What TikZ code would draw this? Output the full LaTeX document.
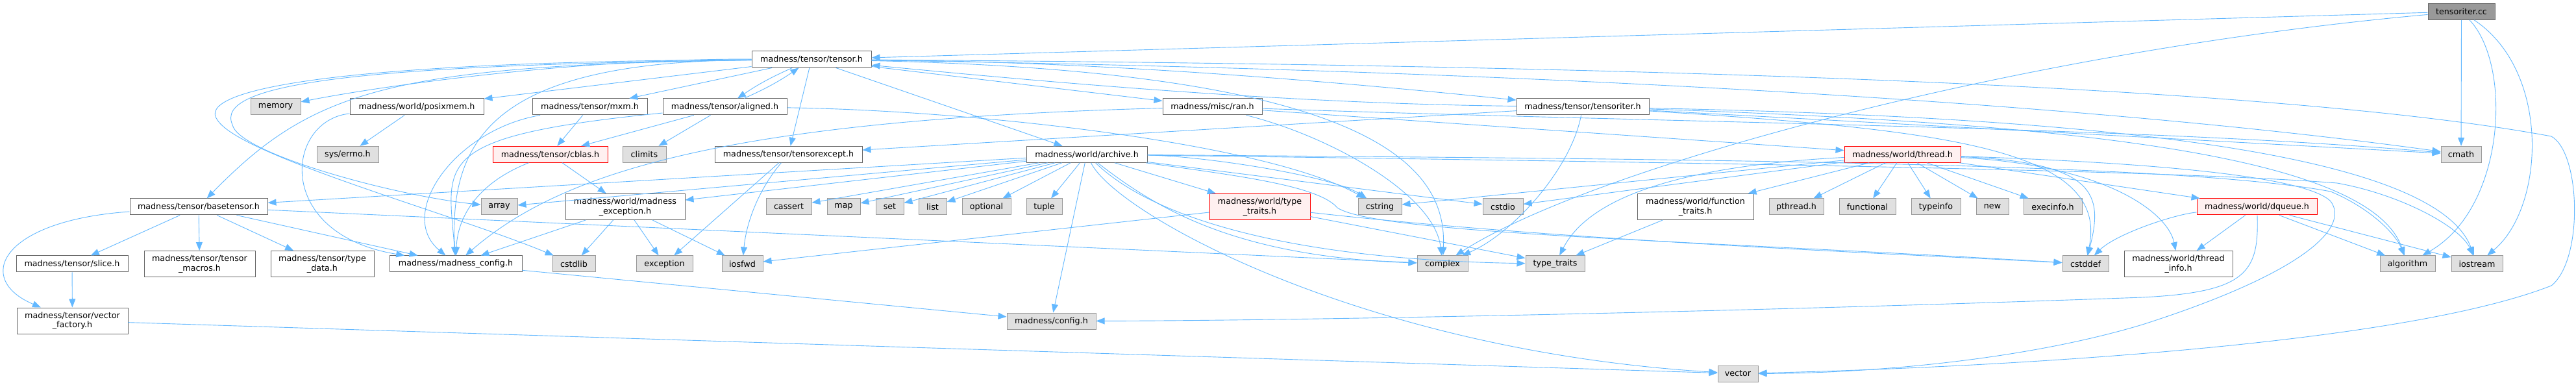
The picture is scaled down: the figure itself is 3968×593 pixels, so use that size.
\documentclass[tikz,border=0pt]{standalone}
\usepackage{fontspec}
\setmainfont{DejaVu Sans}
\usepackage{xcolor}
\usepackage{tikz}
\usetikzlibrary{arrows.meta}
\definecolor{edgeblue}{HTML}{63B8FF}
\definecolor{sysfill}{HTML}{E0E0E0}
\definecolor{sysline}{HTML}{999999}
\definecolor{boxline}{HTML}{666666}
\definecolor{redfill}{HTML}{FFF0F0}
\definecolor{rootfill}{HTML}{999999}

\begin{document}
\begin{tikzpicture}[x=1pt, y=-1pt, every node/.style={font=\fontsize{12.7}{14.4}\selectfont, inner sep=0pt, align=center}, box/.style={rectangle, draw=boxline, fill=white, line width=1pt, minimum height=25pt}, sbox/.style={box, draw=sysline, fill=sysfill}, rbox/.style={box, draw=red, fill=redfill}, rootbox/.style={box, fill=rootfill}, two/.style={minimum height=40pt}, arr/.style={-{Triangle[length=13pt,width=10pt]}, draw=edgeblue, line width=0.9pt}]
\useasboundingbox (0,0) rectangle (3968,593);
\node[rootbox, minimum width=103pt] (cc) at (3791.5,17.8) {tensoriter.cc};
\node[box, minimum width=184pt] (tensor) at (1250,91.5) {madness/tensor/tensor.h};
\node[sbox, minimum width=77pt] (memory) at (424.5,164.5) {memory};
\node[box, minimum width=206pt] (posixmem) at (642,164.5) {madness/world/posixmem.h};
\node[box, minimum width=177pt] (mxm) at (908.5,164.5) {madness/tensor/mxm.h};
\node[box, minimum width=191pt] (aligned) at (1116.5,164.5) {madness/tensor/aligned.h};
\node[box, minimum width=153pt] (ran) at (1867.5,164.5) {madness/misc/ran.h};
\node[box, minimum width=204pt] (iter) at (2438,164.5) {madness/tensor/tensoriter.h};
\node[sbox, minimum width=95pt] (errno) at (535.5,237.8) {sys/errno.h};
\node[rbox, minimum width=177pt] (cblas) at (847.5,237.8) {madness/tensor/cblas.h};
\node[sbox, minimum width=67pt] (climits) at (992.5,237.8) {climits};
\node[box, minimum width=227pt] (except) at (1214.5,237.8) {madness/tensor/tensorexcept.h};
\node[box, minimum width=186pt] (archive) at (1674,237.8) {madness/world/archive.h};
\node[rbox, minimum width=179pt] (thread) at (2930.5,237.8) {madness/world/thread.h};
\node[sbox, minimum width=62pt] (cmath) at (3791,237.8) {cmath};
\node[box, minimum width=212pt] (base) at (306,318.5) {madness/tensor/basetensor.h};
\node[sbox, minimum width=56pt] (array) at (769,318.5) {array};
\node[box, two, minimum width=184pt] (mexc) at (963,318.5) {madness/world/madness\\\_exception.h};
\node[sbox, minimum width=70pt] (cassert) at (1215,318.5) {cassert};
\node[sbox, minimum width=51pt] (map) at (1299.5,318.5) {map};
\node[sbox, minimum width=43pt] (set) at (1370.5,318.5) {set};
\node[sbox, minimum width=43pt] (list) at (1436.5,318.5) {list};
\node[sbox, minimum width=75pt] (optional) at (1519.5,318.5) {optional};
\node[sbox, minimum width=55pt] (tuple) at (1608.5,318.5) {tuple};
\node[rbox, two, minimum width=155pt] (wtraits) at (1940.5,318.5) {madness/world/type\\\_traits.h};
\node[sbox, minimum width=67pt] (cstring) at (2125.5,318.5) {cstring};
\node[sbox, minimum width=62pt] (cstdio) at (2315,318.5) {cstdio};
\node[box, two, minimum width=179pt] (ftraits) at (2611.5,318.5) {madness/world/function\\\_traits.h};
\node[sbox, minimum width=84pt] (pthread) at (2767,318.5) {pthread.h};
\node[sbox, minimum width=87pt] (functional) at (2876.5,318.5) {functional};
\node[sbox, minimum width=76pt] (typeinfo) at (2982,318.5) {typeinfo};
\node[sbox, minimum width=50pt] (new) at (3069,318.5) {new};
\node[sbox, minimum width=90pt] (execinfo) at (3162,318.5) {execinfo.h};
\node[rbox, minimum width=185pt] (dqueue) at (3476.5,318.5) {madness/world/dqueue.h};
\node[box, minimum width=172pt] (slice) at (111,406.5) {madness/tensor/slice.h};
\node[box, two, minimum width=171pt] (macros) at (307.5,406.5) {madness/tensor/tensor\\\_macros.h};
\node[box, two, minimum width=159pt] (tdata) at (496.5,406.5) {madness/tensor/type\\\_data.h};
\node[box, minimum width=204pt] (mconfig) at (702,406.5) {madness/madness\_config.h};
\node[sbox, minimum width=66pt] (cstdlib) at (884,406.5) {cstdlib};
\node[sbox, minimum width=87pt] (exception) at (1023.5,406.5) {exception};
\node[sbox, minimum width=63pt] (iosfwd) at (1143.5,406.5) {iosfwd};
\node[sbox, minimum width=78pt] (complex) at (2222,406.5) {complex};
\node[sbox, minimum width=91pt] (traits) at (2395.5,406.5) {type\_traits};
\node[sbox, minimum width=71pt] (cstddef) at (3212.5,406.5) {cstddef};
\node[box, two, minimum width=167pt] (tinfo) at (3355.5,406.5) {madness/world/thread\\\_info.h};
\node[sbox, minimum width=85pt] (algorithm) at (3708.5,406.5) {algorithm};
\node[sbox, minimum width=79pt] (iostream) at (3815.5,406.5) {iostream};
\node[box, two, minimum width=171pt] (vfactory) at (111.5,494) {madness/tensor/vector\\\_factory.h};
\node[sbox, minimum width=137pt] (config) at (1619.5,494.5) {madness/config.h};
\node[sbox, minimum width=62pt] (vector) at (2677,575.5) {vector};
\draw[arr] (cc)--(tensor); \draw[arr] (cc)--(cmath);
\draw[arr] (cc) .. controls (3100,80) and (2450,260) .. (complex);
\draw[arr] (cc) .. controls (3870,100) and (3860,320) .. (algorithm);
\draw[arr] (cc) .. controls (3930,110) and (3920,320) .. (iostream);
\draw[arr] (tensor) .. controls (900,90) and (600,130) .. (memory); \draw[arr] (tensor)--(posixmem); \draw[arr] (tensor)--(mxm);
\draw[arr] (tensor) to[bend right=5] (aligned); \draw[arr] (aligned) to[bend right=5] (tensor);
\draw[arr] (tensor)--(ran);
\draw[arr] (tensor) .. controls (1700,95) and (2050,125) .. (iter); \draw[arr] (iter) .. controls (2000,160) and (1650,130) .. (tensor);
\draw[arr] (tensor)--(except); \draw[arr] (tensor)--(archive);
\draw[arr] (tensor) .. controls (600,100) and (480,140) .. (base);
\draw[arr] (tensor) .. controls (780,95) and (690,200) .. (mconfig);
\draw[arr] (tensor) .. controls (500,95) and (300,140) .. (335,185) .. controls (370,240) and (700,330) .. (cstdlib);
\draw[arr] (tensor) .. controls (540,100) and (330,130) .. (358,192) .. controls (366,235) and (600,300) .. (array);
\draw[arr] (tensor) .. controls (2500,100) and (3500,130) .. (3930,210) .. controls (3975,235) and (3980,400) .. (3930,440) .. controls (3700,530) and (3100,565) .. (vector);
\draw[arr] (tensor) .. controls (2500,110) and (3300,170) .. (cmath);
\draw[arr] (tensor) .. controls (2100,110) and (2230,250) .. (complex);
\draw[arr] (posixmem)--(errno);
\draw[arr] (posixmem) .. controls (440,185) and (420,360) .. (mconfig);
\draw[arr] (mxm)--(cblas);
\draw[arr] (mxm) .. controls (700,200) and (610,330) .. (mconfig);
\draw[arr] (aligned)--(cblas); \draw[arr] (aligned)--(climits);
\draw[arr] (aligned) .. controls (660,210) and (690,250) .. (mconfig);
\draw[arr] (aligned) .. controls (1500,170) and (1950,220) .. (cstring);
\draw[arr] (ran) .. controls (1100,185) and (860,270) .. (mconfig);
\draw[arr] (ran)--(thread);
\draw[arr] (ran) .. controls (2050,210) and (2210,300) .. (complex);
\draw[arr] (ran) .. controls (2600,190) and (3300,195) .. (cmath);
\draw[arr] (iter)--(except); \draw[arr] (iter)--(cmath);
\draw[arr] (iter) .. controls (2420,260) and (2330,360) .. (complex);
\draw[arr] (iter) .. controls (3000,200) and (3250,230) .. (cstddef);
\draw[arr] (iter) .. controls (3200,190) and (3650,240) .. (algorithm);
\draw[arr] (iter) .. controls (3200,180) and (3750,230) .. (iostream);
\draw[arr] (archive)--(base); \draw[arr] (archive)--(array); \draw[arr] (archive)--(mexc);
\draw[arr] (archive)--(cassert); \draw[arr] (archive)--(map); \draw[arr] (archive)--(set); \draw[arr] (archive)--(list); \draw[arr] (archive)--(optional); \draw[arr] (archive)--(tuple);
\draw[arr] (archive)--(wtraits); \draw[arr] (archive) .. controls (1850,240) and (2050,270) .. (cstring); \draw[arr] (archive)--(cstdio); \draw[arr] (archive)--(config);
\draw[arr] (archive) .. controls (1780,320) and (1900,395) .. (complex);
\draw[arr] (archive) .. controls (1780,340) and (2000,400) .. (traits);
\draw[arr] (archive) .. controls (1720,330) and (2100,540) .. (vector);
\draw[arr] (archive) .. controls (1900,270) and (2030,285) .. (2060,320) .. controls (2120,360) and (2600,370) .. (cstddef);
\draw[arr] (archive) .. controls (2600,245) and (3350,250) .. (3590,295) .. controls (3650,320) and (3690,360) .. (algorithm);
\draw[arr] (archive) .. controls (2600,250) and (3350,262) .. (3600,282) .. controls (3700,300) and (3790,350) .. (iostream);
\draw[arr] (thread)--(pthread); \draw[arr] (thread)--(functional); \draw[arr] (thread)--(typeinfo); \draw[arr] (thread)--(new); \draw[arr] (thread)--(execinfo);
\draw[arr] (thread)--(ftraits); \draw[arr] (thread)--(cstring); \draw[arr] (thread)--(cstdio); \draw[arr] (thread)--(dqueue);
\draw[arr] (thread) .. controls (2600,255) and (2450,300) .. (traits);
\draw[arr] (thread) .. controls (3230,250) and (3240,300) .. (cstddef);
\draw[arr] (thread) .. controls (3250,255) and (3340,330) .. (tinfo);
\draw[arr] (thread) .. controls (3300,250) and (3550,270) .. (3590,310) .. controls (3620,350) and (3550,420) .. (3300,500) .. controls (3100,560) and (2850,575) .. (vector);
\draw[arr] (dqueue)--(tinfo); \draw[arr] (dqueue)--(algorithm); \draw[arr] (dqueue)--(iostream);
\draw[arr] (dqueue) .. controls (3350,330) and (3260,360) .. (cstddef);
\draw[arr] (dqueue) .. controls (3480,420) and (3460,450) .. (3300,458) .. controls (2700,480) and (2000,494) .. (config);
\draw[arr] (ftraits)--(traits);
\draw[arr] (wtraits)--(iosfwd); \draw[arr] (wtraits)--(traits); \draw[arr] (wtraits) .. controls (2400,370) and (2900,390) .. (cstddef);
\draw[arr] (cblas)--(mexc);
\draw[arr] (cblas) .. controls (740,280) and (705,330) .. (mconfig);
\draw[arr] (mexc)--(mconfig); \draw[arr] (mexc)--(cstdlib); \draw[arr] (mexc)--(exception); \draw[arr] (mexc)--(iosfwd);
\draw[arr] (except)--(exception);
\draw[arr] (except) .. controls (1170,290) and (1150,340) .. (iosfwd);
\draw[arr] (base)--(slice); \draw[arr] (base)--(macros); \draw[arr] (base)--(tdata); \draw[arr] (base)--(mconfig); \draw[arr] (base)--(complex);
\draw[arr] (base) .. controls (0,340) and (-40,430) .. (vfactory);
\draw[arr] (slice)--(vfactory); \draw[arr] (vfactory)--(vector); \draw[arr] (mconfig)--(config);
\end{tikzpicture}
\end{document}
